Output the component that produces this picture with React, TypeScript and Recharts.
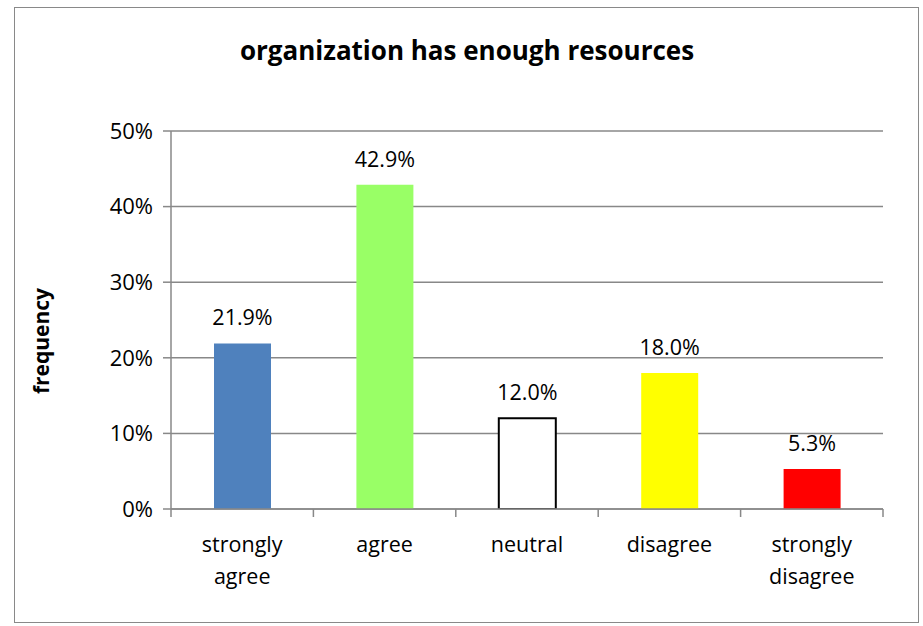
import React from "react";
import { BarChart, Bar, XAxis, YAxis, CartesianGrid, Cell, LabelList } from "recharts";

const categories = ["strongly agree", "agree", "neutral", "disagree", "strongly disagree"];
const values = [0.219, 0.429, 0.12, 0.18, 0.053];
const valueLabels = ["21.9%", "42.9%", "12.0%", "18.0%", "5.3%"];
const yTicks = [0, 0.1, 0.2, 0.3, 0.4, 0.5];
const fills = ["#4F81BD", "#99FF66", "#FFFFFF", "#FFFF00", "#FF0000"];
const strokes = ["none", "none", "#000000", "none", "none"];
const title = "organization has enough resources";
const yTitle = "frequency";

const data = categories.map((c, i) => ({ name: c, value: values[i], label: valueLabels[i] }));

const FONT = "'Open Sans', 'Noto Sans', sans-serif";
const AXIS = "#888888";

const XTick = (props: any) => {
  const { x, y, payload, index } = props;
  const half = payload && payload.offset ? payload.offset : 71.2;
  const words: string[] = String(payload.value).split(" ");
  const lines = words.length > 1 ? [words[0], words.slice(1).join(" ")] : words;
  const axisY = y - 8;
  return (
    <g>
      <line x1={x - half} x2={x - half} y1={axisY} y2={axisY + 8} stroke={AXIS} strokeWidth={1.5} />
      {index === categories.length - 1 && (
        <line x1={x + half} x2={x + half} y1={axisY} y2={axisY + 8} stroke={AXIS} strokeWidth={1.5} />
      )}
      <text x={x} y={axisY + 43} textAnchor="middle" fontFamily={FONT} fontSize={21.5} fill="#000">
        {lines.map((l, i) => (
          <tspan key={i} x={x} dy={i === 0 ? 0 : 32}>
            {l}
          </tspan>
        ))}
      </text>
    </g>
  );
};

export default function App() {
  return (
    <div style={{ position: "absolute", left: 0, top: 0, width: 923, height: 626, background: "#fff" }}>
      <div
        style={{
          position: "absolute",
          left: 14,
          top: 7,
          width: 905,
          height: 616,
          border: "1.5px solid #898989",
          boxSizing: "border-box",
        }}
      />
      <div
        style={{
          position: "absolute",
          left: 0,
          top: 30,
          width: 934,
          textAlign: "center",
          fontFamily: FONT,
          fontWeight: "bold",
          fontSize: 26,
          lineHeight: "40px",
          color: "#000",
        }}
      >
        {title}
      </div>
      <div style={{ position: "absolute", left: 0, top: 0 }}>
        <BarChart
          width={923}
          height={626}
          data={data}
          margin={{ top: 131, right: 40, bottom: 0, left: 0 }}
          barCategoryGap={0}
        >
          <CartesianGrid horizontal vertical={false} stroke={AXIS} strokeWidth={1.5} strokeDasharray="" />
          <XAxis
            dataKey="name"
            stroke={AXIS}
            strokeWidth={1.5}
            tickLine={false}
            tick={<XTick />}
            interval={0}
            height={117}
            padding={{ left: 0, right: 0 }}
          />
          <YAxis
            domain={[0, 0.5]}
            ticks={yTicks}
            width={171}
            stroke={AXIS}
            strokeWidth={1.5}
            tickSize={8}
            tickMargin={10}
            tickFormatter={(v: number) => `${Math.round(v * 100)}%`}
            tick={{ fill: "#000", fontFamily: FONT, fontSize: 22 }}
            allowDataOverflow
          />
          <Bar dataKey="value" barSize={57} isAnimationActive={false}>
            {data.map((d, i) => (
              <Cell key={d.name} fill={fills[i]} stroke={strokes[i]} strokeWidth={2} />
            ))}
            <LabelList
              dataKey="label"
              position="top"
              offset={18}
              style={{ fontFamily: FONT, fontSize: 21.5, fill: "#000" }}
            />
          </Bar>
        </BarChart>
      </div>
      <div
        style={{
          position: "absolute",
          left: 41 - 100,
          top: 341 - 15,
          width: 200,
          height: 30,
          lineHeight: "30px",
          textAlign: "center",
          transform: "rotate(-90deg)",
          fontFamily: FONT,
          fontWeight: "bold",
          fontSize: 21,
          color: "#000",
        }}
      >
        {yTitle}
      </div>
    </div>
  );
}
